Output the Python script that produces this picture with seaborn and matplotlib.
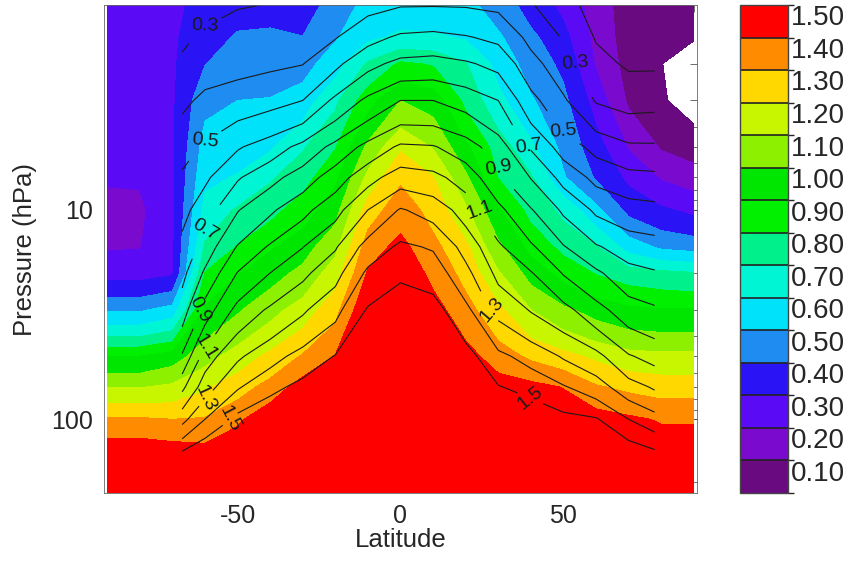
import numpy as np
import matplotlib
matplotlib.use("Agg")
import matplotlib.pyplot as plt
from matplotlib.colors import ListedColormap, BoundaryNorm
from matplotlib.ticker import FixedLocator, NullFormatter, FuncFormatter
import seaborn as sns

# shaded field: latitude x pressure
lat = [-90, -80, -70, -60, -50, -40, -30, -20, -10, 0, 10, 20, 30, 40, 50, 60, 70, 80, 90]
pres = [1, 1.5, 2, 3, 5, 7, 10, 15, 20, 30, 50, 70, 100, 150, 225]
fill_vals = [
    [0.35, 0.35, 0.385, 0.42, 0.46, 0.46, 0.42, 0.55, 0.62, 0.63, 0.63, 0.62, 0.55, 0.45, 0.37, 0.25, 0.15, 0.13, 0.13],
    [0.35, 0.35, 0.385, 0.46, 0.51, 0.517, 0.504, 0.59, 0.68, 0.72, 0.715, 0.69, 0.614, 0.523, 0.431, 0.27, 0.15, 0.105, 0.105],
    [0.35, 0.35, 0.385, 0.497, 0.547, 0.553, 0.56, 0.657, 0.812, 0.915, 0.89, 0.805, 0.666, 0.557, 0.478, 0.29, 0.16, 0.102, 0.06],
    [0.34, 0.34, 0.385, 0.574, 0.6, 0.605, 0.647, 0.78, 0.96, 1.1, 1.06, 0.873, 0.729, 0.611, 0.525, 0.36, 0.185, 0.11, 0.06],
    [0.33, 0.33, 0.38, 0.642, 0.663, 0.686, 0.79, 0.893, 1.123, 1.286, 1.193, 1.023, 0.853, 0.723, 0.572, 0.443, 0.291, 0.19, 0.15],
    [0.31, 0.31, 0.38, 0.678, 0.707, 0.788, 0.86, 0.977, 1.228, 1.384, 1.304, 1.12, 0.896, 0.812, 0.61, 0.49, 0.377, 0.29, 0.25],
    [0.27, 0.28, 0.38, 0.731, 0.812, 0.867, 0.95, 1.062, 1.35, 1.456, 1.364, 1.217, 1.014, 0.867, 0.775, 0.628, 0.471, 0.417, 0.375],
    [0.29, 0.295, 0.38, 0.814, 0.905, 0.988, 1.055, 1.173, 1.451, 1.53, 1.428, 1.321, 1.123, 0.968, 0.871, 0.807, 0.658, 0.58, 0.56],
    [0.36, 0.36, 0.385, 0.903, 0.993, 1.058, 1.127, 1.251, 1.51, 1.58, 1.472, 1.367, 1.21, 1.06, 0.965, 0.893, 0.848, 0.825, 0.806],
    [0.586, 0.586, 0.64, 1.014, 1.088, 1.167, 1.243, 1.367, 1.6, 1.65, 1.54, 1.438, 1.322, 1.2, 1.12, 1.06, 1.02, 1.008, 1.008],
    [1.0, 1.0, 1.05, 1.161, 1.244, 1.323, 1.41, 1.505, 1.7, 1.75, 1.65, 1.54, 1.448, 1.381, 1.332, 1.28, 1.235, 1.225, 1.225],
    [1.194, 1.194, 1.22, 1.286, 1.354, 1.435, 1.55, 1.6, 1.75, 1.8, 1.72, 1.6, 1.55, 1.53, 1.495, 1.41, 1.377, 1.355, 1.355],
    [1.414, 1.414, 1.4, 1.408, 1.48, 1.58, 1.65, 1.7, 1.8, 1.85, 1.8, 1.68, 1.63, 1.62, 1.58, 1.55, 1.52, 1.49, 1.49],
    [1.6, 1.6, 1.58, 1.56, 1.62, 1.7, 1.75, 1.78, 1.85, 1.9, 1.85, 1.75, 1.7, 1.7, 1.66, 1.63, 1.6, 1.58, 1.58],
    [1.7, 1.7, 1.7, 1.68, 1.72, 1.78, 1.8, 1.82, 1.9, 1.95, 1.9, 1.8, 1.75, 1.75, 1.72, 1.7, 1.68, 1.65, 1.65],
]

# contour-line field (smaller domain)
line_lat = [-67, -60, -50, -40, -30, -20, -10, 0, 10, 20, 30, 40, 50, 60, 70, 78]
line_pres = [1, 1.5, 2, 3, 5, 7, 10, 15, 20, 30, 50, 70, 100, 142]
line_vals = [
    [0.23, 0.26, 0.29, 0.297, 0.31, 0.33, 0.36, 0.38, 0.38, 0.38, 0.37, 0.30, 0.23, 0.16, 0.12, 0.12],
    [0.28, 0.322, 0.338, 0.348, 0.36, 0.395, 0.468, 0.517, 0.528, 0.508, 0.477, 0.374, 0.293, 0.193, 0.16, 0.16],
    [0.318, 0.36, 0.371, 0.384, 0.397, 0.477, 0.572, 0.626, 0.635, 0.612, 0.572, 0.433, 0.342, 0.23, 0.186, 0.186],
    [0.38, 0.42, 0.445, 0.468, 0.5, 0.622, 0.722, 0.8, 0.8, 0.76, 0.7, 0.533, 0.414, 0.292, 0.264, 0.27],
    [0.462, 0.516, 0.59, 0.648, 0.73, 0.83, 0.932, 1.017, 1.008, 0.948, 0.845, 0.69, 0.557, 0.468, 0.416, 0.414],
    [0.515, 0.582, 0.69, 0.768, 0.848, 0.952, 1.065, 1.15, 1.128, 1.057, 0.928, 0.796, 0.668, 0.573, 0.534, 0.525],
    [0.568, 0.656, 0.794, 0.883, 0.971, 1.067, 1.2, 1.309, 1.26, 1.157, 1.025, 0.908, 0.783, 0.683, 0.642, 0.63],
    [0.628, 0.745, 0.907, 1.013, 1.097, 1.19, 1.34, 1.418, 1.39, 1.265, 1.116, 1.015, 0.907, 0.81, 0.754, 0.738],
    [0.672, 0.816, 1.004, 1.1, 1.178, 1.266, 1.42, 1.482, 1.455, 1.329, 1.173, 1.107, 0.993, 0.919, 0.831, 0.809],
    [0.75, 0.945, 1.133, 1.215, 1.286, 1.371, 1.51, 1.56, 1.54, 1.425, 1.271, 1.193, 1.133, 1.033, 0.948, 0.915],
    [0.912, 1.15, 1.284, 1.363, 1.436, 1.505, 1.6, 1.65, 1.63, 1.54, 1.424, 1.363, 1.29, 1.232, 1.109, 1.066],
    [1.075, 1.254, 1.389, 1.47, 1.53, 1.58, 1.65, 1.7, 1.68, 1.6, 1.505, 1.467, 1.408, 1.345, 1.241, 1.187],
    [1.267, 1.4, 1.53, 1.59, 1.62, 1.66, 1.7, 1.75, 1.74, 1.67, 1.59, 1.575, 1.53, 1.51, 1.4, 1.338],
    [1.5, 1.58, 1.65, 1.7, 1.7, 1.72, 1.75, 1.8, 1.78, 1.73, 1.66, 1.65, 1.62, 1.6, 1.56, 1.51],
]

fill_levels = [0.1, 0.2, 0.3, 0.4, 0.5, 0.6, 0.7, 0.8, 0.9, 1.0, 1.1, 1.2, 1.3, 1.4, 1.5, 1.6]
line_levels = [0.2, 0.3, 0.4, 0.5, 0.6, 0.7, 0.8, 0.9, 1.0, 1.1, 1.2, 1.3, 1.4, 1.5]
label_levels = [0.3, 0.5, 0.7, 0.9, 1.1, 1.3, 1.5]
cbar_labels = ["0.10", "0.20", "0.30", "0.40", "0.50", "0.60", "0.70", "0.80",
               "0.90", "1.00", "1.10", "1.20", "1.30", "1.40", "1.50"]
fill_colors = ["#6a0a80", "#7a0acd", "#5a0af5", "#2a14f5", "#1e8cf0", "#00e1fa",
               "#00f5d5", "#00f08c", "#00f000", "#00e600", "#8cf000", "#c8f500",
               "#ffd800", "#ff8c00", "#ff0000"]

# latitude spans in which each labelled line carries its label (west, east)
west_span = [(-67, -50), (-67, -50), (-67, -50), (-67, -60), (-67, -50), (-67, -50), (-67, -50)]
east_span = [(40, 60), (40, 60), (30, 40), (20, 40), (20, 30), (20, 30), (30, 50)]

sns.set_theme(style="white")
plt.rcParams["font.family"] = ["Liberation Sans", "DejaVu Sans"]
plt.rcParams["axes.unicode_minus"] = False

cmap = ListedColormap(sns.color_palette(fill_colors))
norm = BoundaryNorm(fill_levels, cmap.N)

fig = plt.figure(figsize=(8.58, 5.61), dpi=100)
ax = fig.add_axes([104 / 858, 1 - 493 / 561, 593 / 858, 488 / 561])
cax = fig.add_axes([740 / 858, 1 - 493 / 561, 48 / 858, 488 / 561])

# shading; the top class also covers everything above 1.5
f = np.array(fill_vals)
ax.contourf(lat, pres, np.minimum(f, 1.599), levels=fill_levels, cmap=cmap, norm=norm)

# each line is drawn in latitude pieces so its labels sit on the flanks
llat = np.array(line_lat)
lv = np.array(line_vals)
for lev in line_levels:
    spans = []
    if lev in label_levels:
        i = label_levels.index(lev)
        spans = [west_span[i], east_span[i]]
    cuts = sorted(set([line_lat[0], line_lat[-1]] + [b for s in spans for b in s]))
    for a, b in zip(cuts[:-1], cuts[1:]):
        sel = (llat >= a) & (llat <= b)
        cs = ax.contour(llat[sel], line_pres, lv[:, sel], levels=[lev],
                        colors="k", linewidths=0.8)
        if (a, b) in spans:
            ax.clabel(cs, fmt="%.1f", fontsize=14, inline=True, inline_spacing=3)

ax.set_yscale("log")
ax.set_xlim(-91, 91)
ax.set_ylim(225, 1.05)
ax.yaxis.set_major_locator(FixedLocator([10, 100]))
ax.yaxis.set_major_formatter(FuncFormatter(lambda v, p: "%d" % v))
ax.yaxis.set_minor_locator(FixedLocator([2, 3, 4, 5, 6, 7, 8, 9, 20, 30, 40, 50, 60, 70, 80, 90, 200]))
ax.yaxis.set_minor_formatter(NullFormatter())
ax.set_xticks([-50, 0, 50])
ax.set_xticks(np.arange(-90, 91, 10), minor=True)
ax.tick_params(which="both", direction="in", top=True, right=True, labelsize=18, color="#555555")
ax.tick_params(which="major", length=10, width=0.8, pad=8)
ax.tick_params(which="minor", length=5, width=0.6)
ax.set_xlabel("Latitude", fontsize=18.5, labelpad=0)
ax.set_ylabel("Pressure (hPa)", fontsize=18.5, labelpad=10)
for s in ax.spines.values():
    s.set_linewidth(0.6)
    s.set_color("#666666")

sm = matplotlib.cm.ScalarMappable(norm=norm, cmap=cmap)
cb = fig.colorbar(sm, cax=cax, drawedges=True)
cb.set_ticks([v + 0.068 for v in fill_levels[:-1]])
cb.set_ticklabels(cbar_labels)
cb.ax.tick_params(length=0, labelsize=20, pad=2)
cb.dividers.set_color("#222222")
cb.dividers.set_linewidth(1.2)
cb.outline.set_linewidth(1.0)
cb.outline.set_edgecolor("#444444")

fig.savefig("out.png", dpi=100)
